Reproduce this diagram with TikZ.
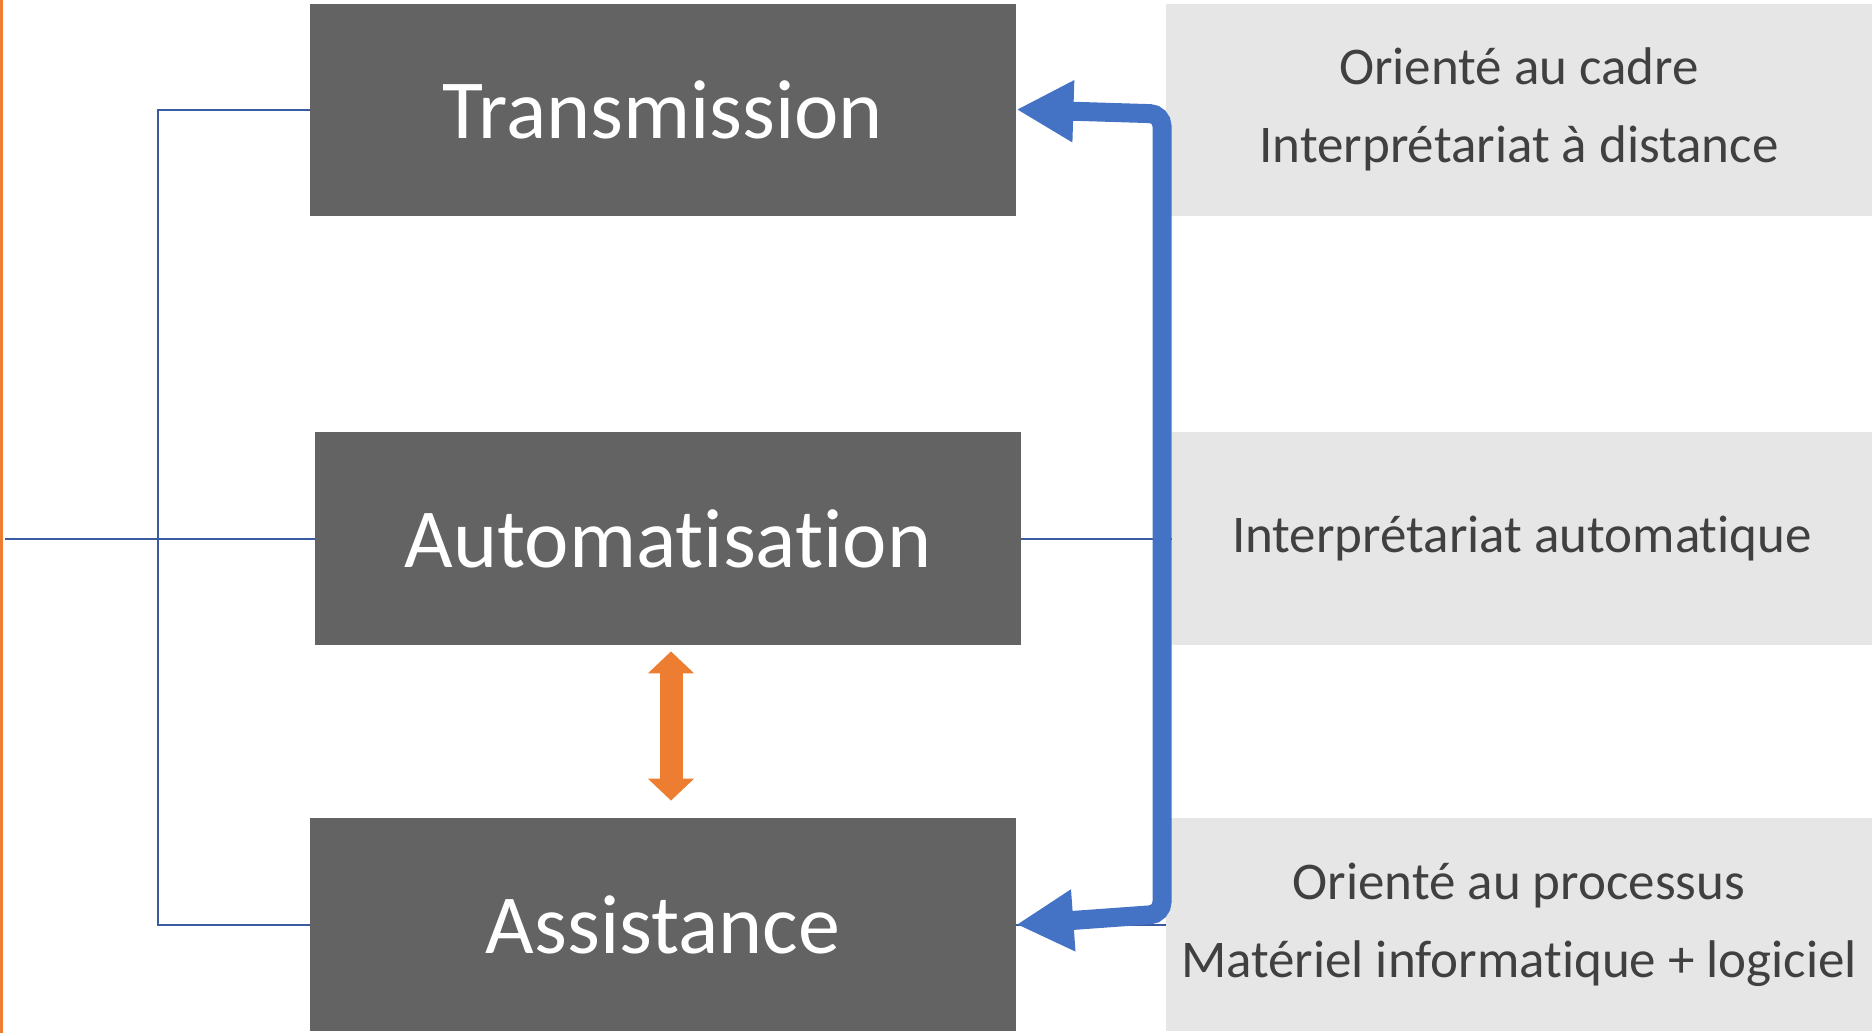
\documentclass[tikz,border=0pt]{standalone}
\usepackage{fontspec}
\setmainfont{Carlito}[Ligatures=NoCommon]
\usetikzlibrary{arrows.meta}
\definecolor{boxgray}{HTML}{636363}
\definecolor{infogray}{HTML}{E6E6E6}
\definecolor{infotext}{HTML}{404040}
\definecolor{linkblue}{HTML}{3A5BA0}
\definecolor{arrowblue}{HTML}{4472C4}
\definecolor{arroworange}{HTML}{ED7D31}

\tikzset{
  level/.style={fill=boxgray, text=white, minimum width=353pt,
    minimum height=106pt, inner sep=0pt, font=\fontsize{42}{50}\selectfont},
  info/.style={fill=infogray, text=infotext, minimum width=353pt,
    minimum height=106pt, inner sep=0pt, align=center,
    font=\fontsize{26.5}{39}\selectfont},
  link/.style={draw=linkblue, line width=1pt},
  backarrow/.style={draw=arrowblue, line width=9.5pt, rounded corners=6pt,
    {Triangle[length=28.5pt,width=29pt]}-{Triangle[length=28.5pt,width=29pt]}},
  swaparrow/.style={draw=arroworange, line width=11.5pt,
    {Triangle[length=11pt,width=22.5pt]}-{Triangle[length=11pt,width=22.5pt]}}
}

\begin{document}
\begin{tikzpicture}[x=0.5pt, y=-0.5pt]
  \useasboundingbox (0,0) rectangle (1876,1033);

  % left margin line
  \draw[arroworange, line width=1.5pt] (1,0) -- (1,1033);

  % levels
  \node[level] (trans) at (663,109.5) {Transmission};
  \node[level, minimum height=106.5pt] (auto) at (668,538.5) {Automatisation};
  \node[level, minimum height=106.5pt] (assist) at (663,924.5) {Assistance};

  % descriptions
  \node[info] (cadre) at (1519,109.5)
    {Orienté au cadre \\ Interprétariat à distance};
  \node[info, minimum width=350pt, minimum height=106.5pt] (machine) at (1522,538.5)
    {Interprétariat automatique};
  \node[info, minimum height=106.5pt] (process) at (1519,924.5)
    {Orienté au processus \\ Matériel informatique + logiciel};

  % thin links
  \coordinate (root) at (5,538.5);
  \draw[link] (trans.west) -- ++(-152,0) |- (assist.west);
  \draw[link] (root) -- (auto.west);
  \draw[link] (auto.east) -- (machine.west);
  \draw[link] (assist.east) -- (process.west);

  % arrows
  \draw[backarrow] (assist.east) -- (1162,914) -- (1162,114) -- (trans.east);
  \draw[swaparrow] ([xshift=1.5pt,yshift=-3pt]auto.south)
    -- ([xshift=4pt,yshift=8.5pt]assist.north);
\end{tikzpicture}
\end{document}
